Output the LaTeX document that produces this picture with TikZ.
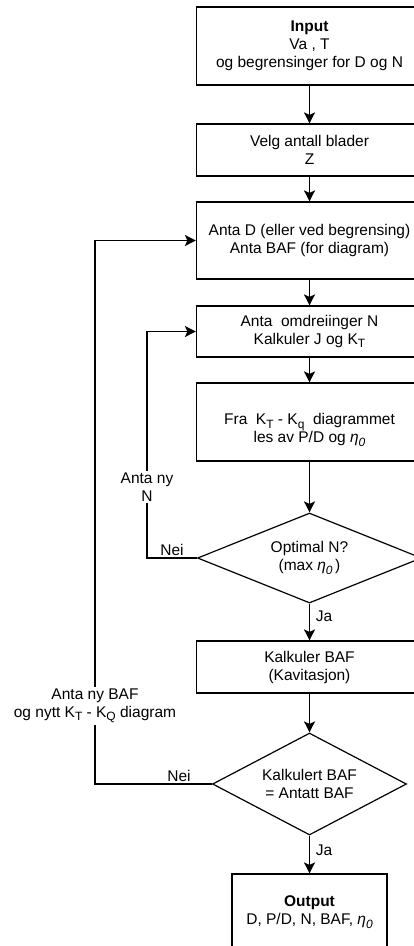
\documentclass[tikz,border=0pt]{standalone}
\usepackage{fontspec}
\setmainfont{Liberation Sans}
\usetikzlibrary{shapes.geometric,arrows.meta}
\newcommand{\lsub}[1]{\raisebox{-3.5pt}{\fontsize{12}{12}\selectfont #1}}
\begin{document}
\begin{tikzpicture}[x=1pt,y=-1pt,
  every node/.style={font=\fontsize{15.5}{18}\selectfont, align=center, inner sep=0pt},
  box/.style={draw, line width=1.2pt, minimum width=226pt},
  dia/.style={draw, diamond, line width=1.2pt},
  conn/.style={line width=1.6pt, -{Stealth[length=11pt,width=11pt,inset=2.5pt]}},
  lbl/.style={fill=white, inner sep=2pt}]
\useasboundingbox (0,0) rectangle (414,946);
\clip (0,0) rectangle (414,946);
% boxes
\node[box, minimum height=78pt] (input) at (309.5,46) {\textbf{Input}\\Va , T\\og begrensinger for D og N};
\node[box, minimum height=52pt] (velg) at (309.5,150) {Velg antall blader\\Z};
\node[box, minimum height=77pt] (antaD) at (309.5,240.5) {Anta D (eller ved begrensing)\\Anta BAF (for diagram)};
\node[box, minimum height=51pt] (antaN) at (309.5,331.5) {Anta\ \ omdreiinger N\\Kalkuler J og K\lsub{T}};
\node[box, minimum height=78pt] (fra) at (309.5,422) {};
\node (fratext) at (309.5,430) {Fra\ \ K\lsub{T} - K\lsub{q}\ \ diagrammet\\les av P/D og \textit{η\lsub{0}}};
\node[dia, shape aspect=2.5, minimum width=224pt, minimum height=90pt] (d1) at (309.5,558) {Optimal N?\\(max \textit{η\lsub{0}}\,)};
\node[box, minimum height=52pt] (kalk) at (309.5,667) {Kalkuler BAF\\(Kavitasjon)};
\node[dia, shape aspect=1.9, minimum width=194pt, minimum height=102pt] (d2) at (309.5,784) {Kalkulert BAF\\= Antatt BAF};
\node[box, minimum width=155pt, minimum height=76pt] (output) at (309.5,912) {\textbf{Output}\\D, P/D, N, BAF, \textit{η\lsub{0}}};
% main flow
\draw[conn] (input) -- (velg);
\draw[conn] (velg) -- (antaD);
\draw[conn] (antaD) -- (antaN);
\draw[conn] (antaN) -- (fra);
\draw[conn] (fra) -- (d1);
\draw[conn] (d1) -- (kalk);
\draw[conn] (kalk) -- (d2);
\draw[conn] (d2) -- (output);
\node (ja1) at (324,616) {Ja};
\node (ja2) at (324,850) {Ja};
% loops
\coordinate (l1) at (147,558);
\coordinate (l2) at (95,784);
\draw[conn] (d1.west) -- (l1) -- (l1 |- antaN.west) -- (antaN.west);
\draw[conn] (d2.west) -- (l2) -- (l2 |- antaD.west) -- (antaD.west);
\node[lbl] (antany) at (147,487) {Anta ny\\N};
\node[lbl] (antabaf) at (95,706) {Anta ny BAF\\og nytt K\lsub{T} - K\lsub{Q} diagram};
\node (nei1) at (172,550) {Nei};
\node (nei2) at (179,776) {Nei};
\end{tikzpicture}
\end{document}
